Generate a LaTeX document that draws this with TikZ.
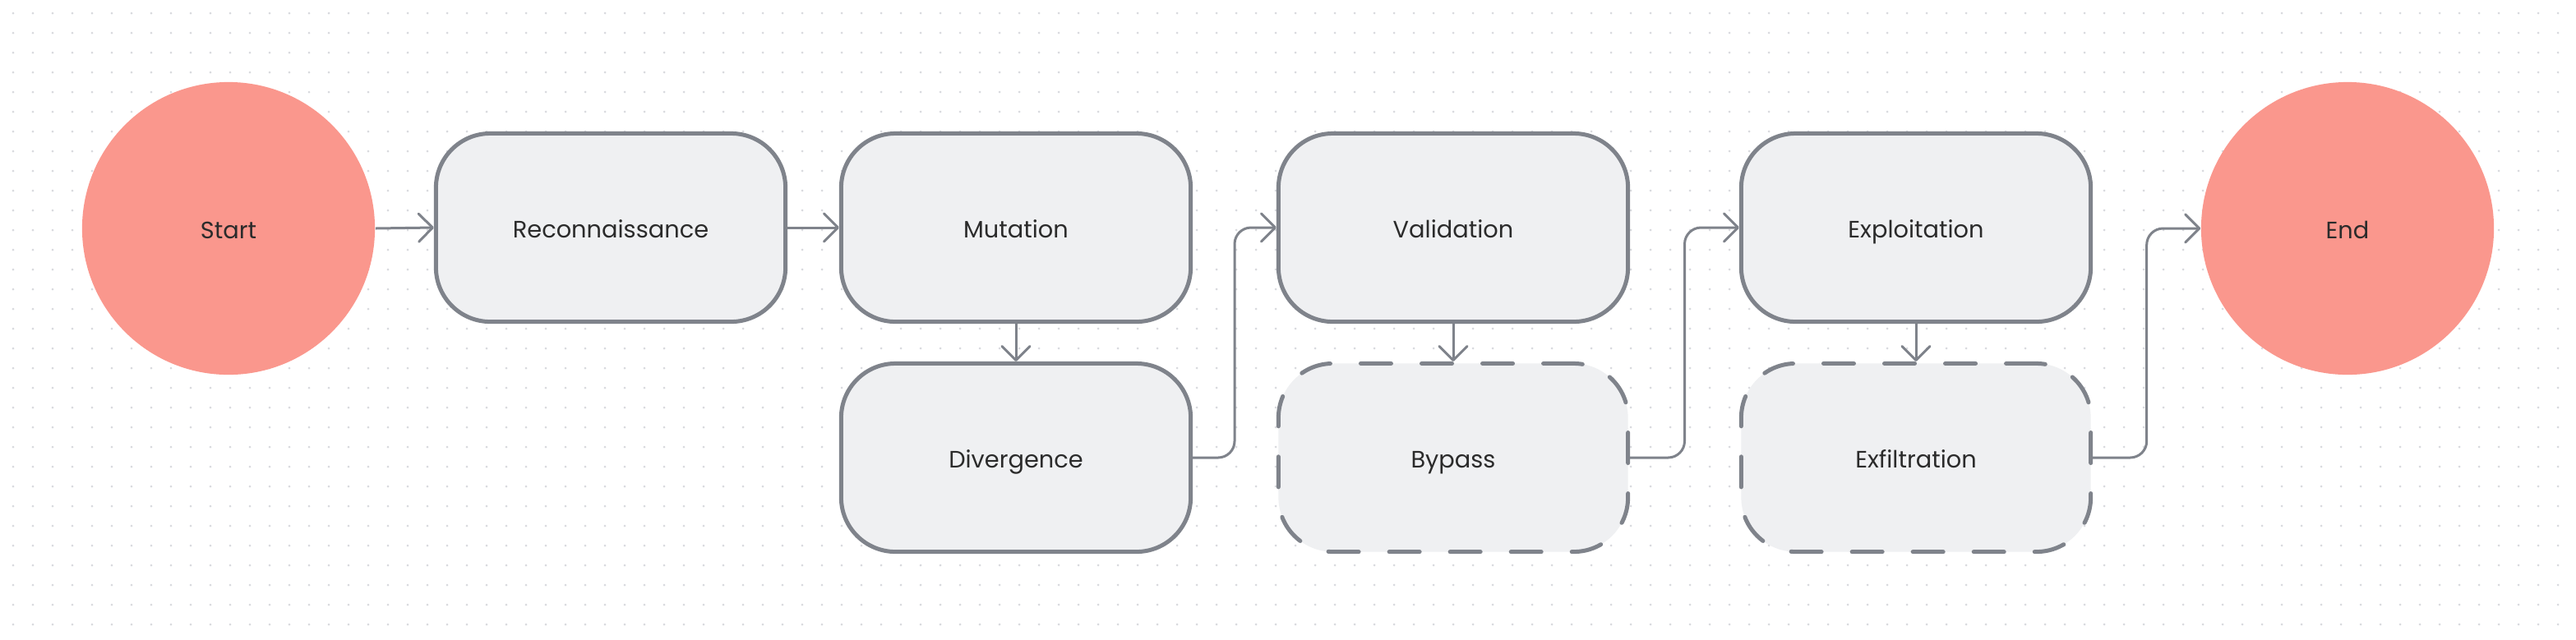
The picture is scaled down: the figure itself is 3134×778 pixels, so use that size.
\documentclass[tikz,border=0pt]{standalone}
\usepackage{fontspec}
\setmainfont{Poppins}
\usetikzlibrary{arrows.meta,calc}
\definecolor{salmon}{HTML}{FA978D}
\definecolor{boxfill}{HTML}{EFF0F2}
\definecolor{edge}{HTML}{7F838B}
\definecolor{ink}{HTML}{2B2B2B}
\definecolor{dotc}{HTML}{D8D9DD}
\begin{document}
\begin{tikzpicture}[x=0.01cm,y=-0.01cm,
  lbl/.style={font=\fontsize{8.2}{10}\selectfont, text=ink, text height=0.7em, text depth=0pt},
  circnode/.style={circle, fill=salmon, minimum size=3.56cm, inner sep=0pt, lbl},
  stepbox/.style={rectangle, rounded corners=0.66cm, draw=edge, line width=0.05cm, fill=boxfill, minimum width=4.25cm, minimum height=2.29cm, lbl},
  dashbox/.style={stepbox, dash pattern=on 0.37cm off 0.37cm, line cap=round},
  conn/.style={draw=edge, line width=0.03cm, -{Straight Barb[length=0.17cm,width=0.34cm,round]}, rounded corners=0.2cm}
]
\useasboundingbox (0,0) rectangle (3134,778);
\fill[white] (0,0) rectangle (3134,778);
\foreach \x in {16,40,...,3134} {
  \foreach \y in {16,40,...,778} {
    \fill[dotc] (\x,\y) circle[radius=0.015cm];
  }
}
\node[circnode] (start) at (278,278) {Start};
\node[stepbox] (recon) at (743,277) {Reconnaissance};
\node[stepbox] (mut) at (1236,277) {Mutation};
\node[stepbox] (div) at (1236,557) {Divergence};
\node[stepbox] (val) at (1768,277) {Validation};
\node[dashbox] (byp) at (1768,557) {Bypass};
\node[stepbox] (expl) at (2331,277) {Exploitation};
\node[dashbox] (exf) at (2331,557) {Exfiltration};
\node[circnode] (end) at (2856,278) {End};

\draw[conn] (start.east) -- (recon.west);
\draw[conn] (recon.west -| recon.east) -- (mut.west);
\draw[conn] (mut.south) -- (div.north);
\draw[conn] (div.east) -| ($(div.east)!0.5!(val.west)$) |- (val.west);
\draw[conn] (val.south) -- (byp.north);
\draw[conn] (byp.east) -| ($(byp.east)!0.5!(expl.west)$) |- (expl.west);
\draw[conn] (expl.south) -- (exf.north);
\draw[conn] (exf.east) -| ($(exf.east)!0.5!(end.west)$) |- (end.west);
\end{tikzpicture}
\end{document}
